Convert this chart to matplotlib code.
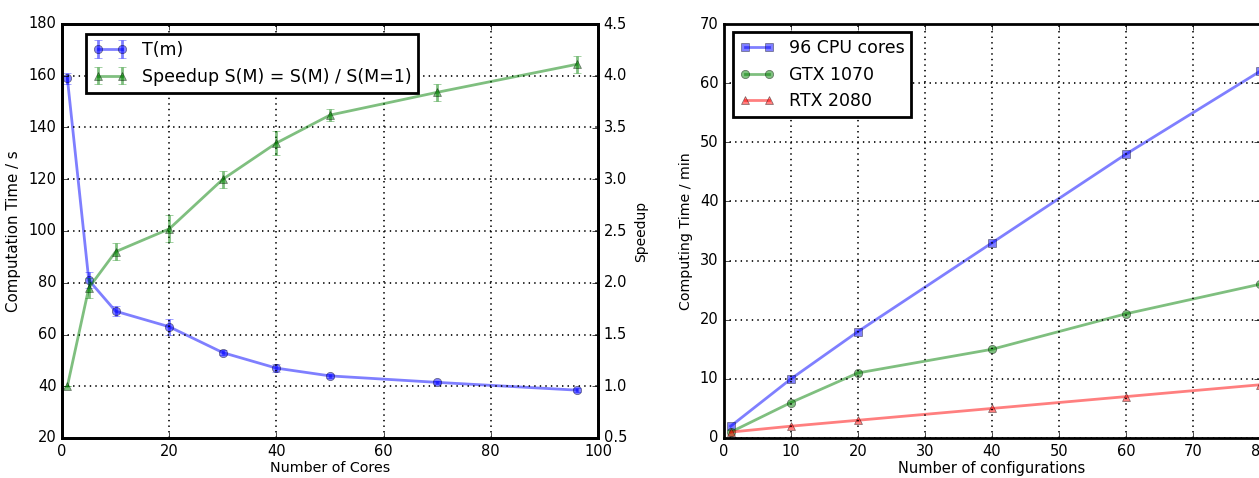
import matplotlib
matplotlib.use('Agg')
import matplotlib.pyplot as plt

plt.style.use('classic')

# left panel: scaling with number of cores
cores = [1, 5, 10, 20, 30, 40, 50, 70, 96]
t_m = [159, 81, 69, 63, 53, 47, 44, 41.5, 38.5]
t_err = [2, 3, 2, 3, 1, 1.5, 0.7, 0.7, 0.7]
speedup = [1.0, 1.95, 2.3, 2.52, 3.0, 3.35, 3.62, 3.84, 4.11]
speedup_err = [0.0, 0.1, 0.08, 0.13, 0.08, 0.12, 0.06, 0.08, 0.08]

# right panel: computing time vs configurations
configs = [1, 10, 20, 40, 60, 80]
cpu96 = [2, 10, 18, 33, 48, 62]
gtx1070 = [1, 6, 11, 15, 21, 26]
rtx2080 = [1, 2, 3, 5, 7, 9]

fig = plt.figure(figsize=(12.59, 4.78), dpi=100, facecolor='white')

ax1 = fig.add_axes([62/1259., 40/478., 536/1259., 414/478.])
ax2 = ax1.twinx()

l1 = ax1.errorbar(cores, t_m, yerr=t_err, fmt='o-', color='b', alpha=0.5,
                  lw=2, ms=6, capsize=3, label='T(m)')
l2 = ax2.errorbar(cores, speedup, yerr=speedup_err, fmt='^-', color='g', alpha=0.5,
                  lw=2, ms=6, capsize=3, label='Speedup S(M) = S(M) / S(M=1)')
ax1.set_xlim(0, 100)
ax1.set_ylim(20, 180)
ax2.set_ylim(0.5, 4.5)
ax1.grid(True, color='k', linestyle=':', lw=1.2)
ax1.set_xlabel('Number of Cores', fontsize=10.3, labelpad=2)
ax1.set_ylabel('Computation Time / s', fontsize=10.8)
ax2.set_ylabel('Speedup', fontsize=10)
for a in (ax1, ax2):
    a.tick_params(labelsize=10.5)
    for s in a.spines.values():
        s.set_linewidth(2)
leg = ax1.legend([l1, l2], ['T(m)', 'Speedup S(M) = S(M) / S(M=1)'],
                 loc='upper left', bbox_to_anchor=(24/536., 1 - 10/414.),
                 borderaxespad=0, fontsize=12.5, numpoints=2)
leg.get_frame().set_linewidth(2)

ax3 = fig.add_axes([724/1259., 40/478., 536/1259., 414/478.])
ax3.plot(configs, cpu96, 's-', color='b', alpha=0.5, lw=2, ms=6, label='96 CPU cores')
ax3.plot(configs, gtx1070, 'o-', color='g', alpha=0.5, lw=2, ms=6, label='GTX 1070')
ax3.plot(configs, rtx2080, '^-', color='r', alpha=0.5, lw=2, ms=6, label='RTX 2080')
ax3.set_xlim(0, 80)
ax3.set_ylim(0, 70)
ax3.set_xticks([0, 10, 20, 30, 40, 50, 60, 70, 80])
ax3.grid(True, color='k', linestyle=':', lw=1.2)
ax3.set_xlabel('Number of configurations', fontsize=10.5, labelpad=2)
ax3.set_ylabel('Computing Time / min', fontsize=10.2)
ax3.tick_params(labelsize=10.5)
for s in ax3.spines.values():
    s.set_linewidth(2)
leg3 = ax3.legend(loc='upper left', bbox_to_anchor=(9/536., 1 - 8/414.),
                  borderaxespad=0, fontsize=12.5, numpoints=2)
leg3.get_frame().set_linewidth(2)

fig.savefig('out.png', dpi=100, facecolor='white')
